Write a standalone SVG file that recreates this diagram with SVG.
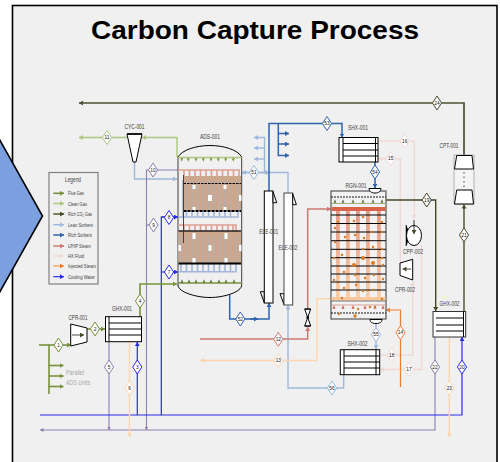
<svg xmlns="http://www.w3.org/2000/svg" width="500" height="462" viewBox="0 0 500 462">
<style>
text{font-family:"Liberation Sans",Arial,sans-serif}
.t{font-size:26.5px;font-weight:bold;fill:#000;text-anchor:middle}
.lb{font-size:7px;fill:#404040;text-anchor:middle}
.lg{font-size:5.4px;fill:#404040}
.n{font-size:4.8px;fill:#111;text-anchor:middle}
.gr{font-size:6.8px;fill:#a6a6a6}
.c{fill:none;stroke-linejoin:miter}
.flue{stroke:#76923c;stroke-width:1.6}
.clean{stroke:#adc77f;stroke-width:1.5}
.co2{stroke:#3f4a24;stroke-width:1.4}
.lean{stroke:#9db8dc;stroke-width:1.4}
.rich{stroke:#2e63ad;stroke-width:1.5}
.lp{stroke:#cd7a74;stroke-width:1.5}
.hx{stroke:#f2d8d4;stroke-width:1.4}
.inj{stroke:#fbd4b0;stroke-width:1.4}
.org{stroke:#ed7d31;stroke-width:1.2}
.cw{stroke:#2a2af0;stroke-width:1.2}
.pur{stroke:#8d7fae;stroke-width:1.1}
.tur{stroke:#666a50;stroke-width:1.7}
.top{stroke:#4a5030;stroke-width:1.7}
.eq{fill:#fff;stroke:#000;stroke-width:1}
.hxl{stroke:#000;stroke-width:1;fill:none}
.dot{fill:#d9791e}
</style>
<defs>
<polygon id="dia" points="0,-7 4.6,0 0,7 -4.6,0" fill="#fff" stroke-width="1"/>
<marker id="mflue" markerUnits="userSpaceOnUse" markerWidth="4" markerHeight="5" refX="4" refY="2.500" orient="auto"><path d="M0 0L4 2.500L0 5z" fill="#76923c"/></marker>
<marker id="mclean" markerUnits="userSpaceOnUse" markerWidth="4" markerHeight="5" refX="4" refY="2.500" orient="auto"><path d="M0 0L4 2.500L0 5z" fill="#adc77f"/></marker>
<marker id="mco2" markerUnits="userSpaceOnUse" markerWidth="4" markerHeight="5" refX="4" refY="2.500" orient="auto"><path d="M0 0L4 2.500L0 5z" fill="#3f4a24"/></marker>
<marker id="mlean" markerUnits="userSpaceOnUse" markerWidth="4" markerHeight="5" refX="4" refY="2.500" orient="auto"><path d="M0 0L4 2.500L0 5z" fill="#9db8dc"/></marker>
<marker id="mrich" markerUnits="userSpaceOnUse" markerWidth="4" markerHeight="5" refX="4" refY="2.500" orient="auto"><path d="M0 0L4 2.500L0 5z" fill="#2e63ad"/></marker>
<marker id="mlp" markerUnits="userSpaceOnUse" markerWidth="4" markerHeight="5" refX="4" refY="2.500" orient="auto"><path d="M0 0L4 2.500L0 5z" fill="#cd7a74"/></marker>
<marker id="mhx" markerUnits="userSpaceOnUse" markerWidth="4" markerHeight="5" refX="4" refY="2.500" orient="auto"><path d="M0 0L4 2.500L0 5z" fill="#f2d8d4"/></marker>
<marker id="minj" markerUnits="userSpaceOnUse" markerWidth="4" markerHeight="5" refX="4" refY="2.500" orient="auto"><path d="M0 0L4 2.500L0 5z" fill="#fbd4b0"/></marker>
<marker id="morg" markerUnits="userSpaceOnUse" markerWidth="4" markerHeight="5" refX="4" refY="2.500" orient="auto"><path d="M0 0L4 2.500L0 5z" fill="#ed7d31"/></marker>
<marker id="mcw" markerUnits="userSpaceOnUse" markerWidth="4" markerHeight="5" refX="4" refY="2.500" orient="auto"><path d="M0 0L4 2.500L0 5z" fill="#2a2af0"/></marker>
<marker id="mpur" markerUnits="userSpaceOnUse" markerWidth="3.500" markerHeight="4" refX="3.500" refY="2" orient="auto"><path d="M0 0L3.500 2L0 4z" fill="#8d7fae"/></marker>
<marker id="mtop" markerUnits="userSpaceOnUse" markerWidth="4" markerHeight="5" refX="4" refY="2.500" orient="auto"><path d="M0 0L4 2.500L0 5z" fill="#4a5030"/></marker>
<path id="sd" d="M-1.400 -1.800H1.400L0 1.800z" fill="#76923c"/>
<path id="su" d="M-1.400 1.800H1.400L0 -1.800z" fill="#5d6f35"/>
<path id="sr" d="M-1.500 1.800H1.500L0 -1.800z" fill="#cd5a4a"/>
<linearGradient id="strip" x1="0" y1="0" x2="0" y2="1"><stop offset="0" stop-color="#e39a84"/><stop offset="1" stop-color="#f8cda8"/></linearGradient>
</defs>

<rect id="frame" x="12.500" y="5.500" width="484.500" height="460" fill="#f0f0f0" stroke="#000" stroke-width="1.600"/>
<polygon id="pentagon" points="-3,135 42.500,216 -3,297" fill="#7c9fdf" stroke="#000" stroke-width="1.600"/>
<text class="t" x="255" y="38.500" textLength="328" lengthAdjust="spacingAndGlyphs">Carbon Capture Process</text>

<g id="connectors" class="c">
<path class="top" d="M464 155V103H79" marker-end="url(#mtop)"/>
<path class="clean" d="M127 137.500H79" marker-end="url(#mclean)"/>
<path class="clean" d="M177 157V137.500H142" marker-end="url(#mclean)"/>
<path class="lean" d="M134.500 162V179H177" marker-end="url(#mlean)"/>
<path class="pur" d="M178 170H146.500V430" marker-end="url(#mpur)"/>
<path class="pur" d="M146.500 225H153"/>
<path class="pur" d="M435 337V430H40" marker-end="url(#mpur)"/>
<path class="pur" d="M109 342V430" marker-end="url(#mpur)"/>
<path class="cw" d="M40 415H462V337" marker-end="url(#mcw)"/>
<path class="cw" d="M137.300 415V342" marker-end="url(#mcw)"/>
<path class="cw" d="M178 217H161.300V415"/>
<path class="cw" d="M161.300 272H178" marker-end="url(#mcw)"/>
<path class="cw" d="M161.300 217H178" marker-end="url(#mcw)"/>
<path class="inj" d="M129.500 342V437" marker-end="url(#minj)"/>
<path class="inj" d="M449.300 337V437" marker-end="url(#minj)"/>
<path class="flue" d="M39 345H71" marker-end="url(#mflue)"/>
<path class="flue" d="M49 345V394"/>
<path class="flue" d="M49 365.500H63.500" marker-end="url(#mflue)"/>
<path class="flue" d="M49 376H63.500" marker-end="url(#mflue)"/>
<path class="flue" d="M49 386.500H63.500" marker-end="url(#mflue)"/>
<path class="flue" d="M87 329H105" marker-end="url(#mflue)"/>
<path class="flue" d="M140 316.500V284H177" marker-end="url(#mflue)"/>
<path class="lean" d="M242 172.500H288V193"/>
<path class="lean" d="M264.500 172.500H242" marker-end="url(#mlean)"/>
<path class="lean" d="M264.500 172.500V137.500H254" marker-end="url(#mlean)"/>
<path class="lean" d="M264.500 148H254" marker-end="url(#mlean)"/>
<path class="lean" d="M264.500 159H254" marker-end="url(#mlean)"/>
<path class="lean" d="M270 172.500H263" marker-end="url(#mlean)"/>
<path class="rich" d="M269 191V123.500H342V137.500" marker-end="url(#mrich)"/>
<path class="rich" d="M278.300 123.500V155.500H289" marker-end="url(#mrich)"/>
<path class="rich" d="M278.300 133.500H289" marker-end="url(#mrich)"/>
<path class="rich" d="M278.300 144H289" marker-end="url(#mrich)"/>
<path class="rich" d="M229.700 295V319H269V303" marker-end="url(#mrich)"/>
<path class="rich" d="M250 319H258" marker-end="url(#mrich)"/>
<path class="rich" d="M375 162V188" marker-end="url(#mrich)"/>
<path class="lean" d="M343.700 375V388H288V305.500" marker-end="url(#mlean)"/>
<path class="lp" d="M200 339H307.700V327" marker-end="url(#mlp)"/>
<path class="lp" d="M307.700 309V209H331" marker-end="url(#mlp)"/>
<path class="inj" d="M331 298.700H317V360.500H200" marker-end="url(#minj)"/>
<path class="hx" d="M378 141H414.300V219" marker-end="url(#mhx)"/>
<path class="hx" d="M400.300 263V158.700H378" marker-end="url(#mhx)"/>
<path class="hx" d="M421.700 245V369.500H380" marker-end="url(#mhx)"/>
<path class="hx" d="M380 355H412.700V282" marker-end="url(#mhx)"/>
<path class="org" d="M400.500 387V310H386" marker-end="url(#morg)"/>
<path class="lean" d="M376 323V349" marker-end="url(#mlean)"/>
<path class="co2" d="M386 200H435.700V311" marker-end="url(#mco2)"/>
<path class="tur" d="M464 311V204.500" marker-end="url(#mtop)"/>
</g>

<g id="legend">
<rect x="49" y="172.500" width="49" height="111.500" fill="#f0f0f0" stroke="#808080" stroke-width="1.200"/>
<text class="lb" x="73" y="182" textLength="16" lengthAdjust="spacingAndGlyphs">Legend</text>
<path class="c flue" d="M53.300 193.300H64" marker-end="url(#mflue)"/>
<path class="c clean" d="M53.300 203.500H64" marker-end="url(#mclean)"/>
<path class="c co2" d="M53.300 214H64" marker-end="url(#mco2)"/>
<path class="c lean" d="M53.300 224.700H64" marker-end="url(#mlean)"/>
<path class="c rich" d="M53.300 235H64" marker-end="url(#mrich)"/>
<path class="c lp" d="M53.300 246H64" marker-end="url(#mlp)"/>
<path class="c hx" d="M53.300 256H64" marker-end="url(#mhx)"/>
<path class="c org" style="stroke:#f79646" d="M53.300 266H64" marker-end="url(#morg)"/>
<path class="c cw" d="M53.300 276.700H64" marker-end="url(#mcw)"/>
<text class="lg" x="68" y="195" textLength="16" lengthAdjust="spacingAndGlyphs">Flue Gas</text>
<text class="lg" x="68" y="205.500" textLength="19" lengthAdjust="spacingAndGlyphs">Clean Gas</text>
<text class="lg" x="68" y="216" textLength="24" lengthAdjust="spacingAndGlyphs">Rich CO₂ Gas</text>
<text class="lg" x="68" y="226.700" textLength="25" lengthAdjust="spacingAndGlyphs">Lean Sorbent</text>
<text class="lg" x="68" y="237" textLength="24" lengthAdjust="spacingAndGlyphs">Rich Sorbent</text>
<text class="lg" x="68" y="248" textLength="23" lengthAdjust="spacingAndGlyphs">LP/IP Steam</text>
<text class="lg" x="68" y="258" textLength="16" lengthAdjust="spacingAndGlyphs">HX Fluid</text>
<text class="lg" x="68" y="268" textLength="28" lengthAdjust="spacingAndGlyphs">Injected Steam</text>
<text class="lg" x="68" y="278.700" textLength="27" lengthAdjust="spacingAndGlyphs">Cooling Water</text>
</g>

<g id="CYC-001">
<text class="lb" x="134.500" y="129" textLength="20" lengthAdjust="spacingAndGlyphs">CYC-001</text>
<polygon class="eq" points="127,134 142,134 136,162 133,162"/>
<path d="M127 134H142" stroke="#000" stroke-width="1.600"/>
</g>

<g id="ADS-001">
<text class="lb" x="210" y="139" textLength="20" lengthAdjust="spacingAndGlyphs">ADS-001</text>
<path d="M178 157C182 150 196 145.500 210 145.500C224 145.500 238 150 241.700 157" fill="none" stroke="#000" stroke-width="1"/>
<path d="M178 285C178 292 196 297.500 210 297.500C224 297.500 241.700 292 241.700 285" fill="none" stroke="#000" stroke-width="1"/>
<path d="M178 157V285M241.700 157V285" stroke="#404040" stroke-width="1" fill="none"/>
<path d="M178 157.500H241.700" stroke="#adc77f" stroke-width="1.400"/>
<path d="M178 283H241.700" stroke="#76923c" stroke-width="1.300"/>
<g>
<use href="#sd" x="181.700" y="160"/><use href="#sd" x="188.300" y="160"/><use href="#sd" x="196" y="160"/><use href="#sd" x="203.300" y="160"/><use href="#sd" x="211" y="160"/><use href="#sd" x="218.300" y="160"/><use href="#sd" x="225.700" y="160"/><use href="#sd" x="233.300" y="160"/>
<use href="#su" x="182" y="281"/><use href="#su" x="189" y="281"/><use href="#su" x="196" y="281"/><use href="#su" x="204" y="281"/><use href="#su" x="211" y="281"/><use href="#su" x="219" y="281"/><use href="#su" x="226" y="281"/><use href="#su" x="234" y="281"/>
</g>
<rect x="183.500" y="176" width="57.500" height="35" fill="#c9a98c"/>
<rect x="178.500" y="231" width="62.500" height="32.500" fill="#c9a98c"/>
<g fill="none" stroke="#dc9f92" stroke-width="1.600">
<path d="M178 170H239V176M184 170V205M189.500 170V205M195 170V205M200.500 170V205M206 170V205M211.500 170V205M217 170V205M222.500 170V205M228 170V205M233.500 170V205"/>
<path d="M178 225H236V231M184 225V258M189.500 225V258M195 225V258M200.500 225V258M206 225V258M211.500 225V258M217 225V258M222.500 225V258M228 225V258M233 225V258"/>
</g>
<g fill="none" stroke="#a2b5d8" stroke-width="1.600">
<path d="M178 217H238V180M186.500 217V180M192 217V180M197.500 217V180M203 217V180M208.500 217V180M214 217V180M219.500 217V180M225 217V180M230.500 217V180M183 217V180"/>
<path d="M178 271.700H236V236M186.500 271.700V236M192 271.700V236M197.500 271.700V236M203 271.700V236M208.500 271.700V236M214 271.700V236M219.500 271.700V236M225 271.700V236M230.500 271.700V236M181 271.700V236"/>
</g>
<rect x="183.500" y="176" width="57.500" height="35" fill="#c9a98c" opacity="0.6"/>
<rect x="178.500" y="231" width="62.500" height="32.500" fill="#c9a98c" opacity="0.6"/>
<g fill="#fff">
<rect x="192.500" y="185" width="3" height="4"/><rect x="223.500" y="185" width="3" height="4"/><rect x="208" y="195" width="4" height="6"/><rect x="239" y="195" width="2.500" height="6"/><rect x="192.500" y="207" width="3" height="4"/><rect x="223.500" y="207" width="3" height="4"/>
<rect x="192.500" y="233" width="3" height="6"/><rect x="224.500" y="233" width="3" height="6"/><rect x="178.500" y="245" width="2.500" height="6"/><rect x="208.500" y="245" width="3" height="6"/><rect x="239" y="245" width="2.500" height="6"/><rect x="192.500" y="258" width="3" height="5"/><rect x="224.500" y="258" width="3" height="5"/>
</g>
<path d="M183.500 183.500H241" stroke="#000" stroke-width="1" stroke-dasharray="2.500 1"/>
<path d="M183.500 211H241" stroke="#000" stroke-width="1.800" stroke-dasharray="3 1"/>
<path d="M178.500 231H241" stroke="#222" stroke-width="1.600"/>
<path d="M178.500 263.500H241" stroke="#000" stroke-width="1.800"/>
<path d="M183.500 175V243" stroke="#333" stroke-width="0.900"/>
</g>

<g id="ELE-001">
<path class="eq" d="M260.300 291.700H264.300V302.700z"/>
<rect class="eq" x="264.300" y="191" width="8.700" height="112"/>
<path class="eq" d="M273 191.700L276.700 202.700H273z"/>
<text class="lb" x="268.700" y="234" textLength="19" lengthAdjust="spacingAndGlyphs">ELE-001</text>
</g>
<g id="ELE-002">
<path class="eq" d="M280 293.700H284V304.700z"/>
<rect x="284" y="193" width="8.700" height="112" fill="#fff" stroke="#444" stroke-width="1"/>
<path class="eq" d="M292.700 193.700L296.400 204.700H292.700z"/>
<text class="lb" x="288" y="250" textLength="19" lengthAdjust="spacingAndGlyphs">ELE-002</text>
</g>

<g id="SHX-001">
<text class="lb" x="358" y="129.500" textLength="20" lengthAdjust="spacingAndGlyphs">SHX-001</text>
<rect class="eq" x="339" y="137.500" width="39" height="24.500"/>
<path class="hxl" d="M343 137.500V162M343 143.500H378M343 150H378M343 156H378M375.500 137.500V162"/>
</g>
<g id="SHX-002">
<text class="lb" x="357.500" y="346" textLength="20" lengthAdjust="spacingAndGlyphs">SHX-002</text>
<rect class="eq" x="340.300" y="349.700" width="39.400" height="25"/>
<path class="hxl" d="M344 349.700V374.700M344 356H379.700M344 362H379.700M344 368H379.700M376 349.700V374.700"/>
</g>
<g id="GHX-001">
<text class="lb" x="122" y="310.500" textLength="20" lengthAdjust="spacingAndGlyphs">GHX-001</text>
<rect class="eq" x="105.500" y="316.700" width="36" height="25"/>
<path class="hxl" d="M109 316.700V341.700M109 323H141.500M109 329H141.500M109 335H141.500"/>
</g>
<g id="GHX-002">
<text class="lb" x="449.500" y="306" textLength="20" lengthAdjust="spacingAndGlyphs">GHX-002</text>
<rect x="433" y="311.500" width="32.700" height="25.500" fill="#fff" stroke="#333" stroke-width="1"/>
<path class="hxl" d="M436 318H463.500M436 325H463.500M436 331H463.500M463.500 311.500V337"/>
</g>

<g id="CPR-001">
<text class="lb" x="78" y="319.500" textLength="19" lengthAdjust="spacingAndGlyphs">CPR-001</text>
<polygon class="eq" points="70.700,324 87,328 87,342 70.700,346"/>
<path d="M72 335H84" stroke="#000" stroke-width="0.700" marker-end="url(#mco2)"/>
</g>
<g id="CPR-002">
<text class="lb" x="405" y="291.500" textLength="20" lengthAdjust="spacingAndGlyphs">CPR-002</text>
<polygon class="eq" points="400,263 412.700,259.300 412.700,280 400,275.500"/>
<path d="M411 269H402.500" stroke="#000" stroke-width="0.700" marker-end="url(#mco2)"/>
</g>
<g id="CPP-002">
<text class="lb" x="413" y="253.500" textLength="20" lengthAdjust="spacingAndGlyphs">CPP-002</text>
<path d="M406 225L408 230V241L406 246Z" fill="#000" stroke="#000" stroke-width="0.500"/>
<ellipse class="eq" cx="414" cy="235.500" rx="7.500" ry="10"/>
<path d="M414 220V234" stroke="#000" stroke-width="0.800" marker-end="url(#mco2)"/>
</g>
<g id="valve">
<path class="eq" d="M304.700 309H310.700L304.700 326H310.700Z"/>
<path d="M304.700 309H310.700M304.700 326H310.700" stroke="#000" stroke-width="1.200"/>
<circle cx="307.700" cy="317.500" r="1.300" fill="#000"/>
</g>
<g id="CPT-001">
<text class="lb" x="449" y="148" textLength="19" lengthAdjust="spacingAndGlyphs">CPT-001</text>
<rect x="454" y="155" width="20" height="49" fill="#f4f4f4" stroke="#a0a0a0" stroke-width="0.800"/>
<polygon class="eq" points="456.700,155.500 472,155.500 473.500,169 454.500,169"/>
<polygon class="eq" points="456.700,190 472,190 473.500,204 454.500,204"/>
<path d="M464 172V188" stroke="#444" stroke-width="1" stroke-dasharray="1.500 3"/>
</g>

<g id="RGN-001">
<text class="lb" x="356" y="188" textLength="21" lengthAdjust="spacingAndGlyphs">RGN-001</text>
<rect x="331" y="191" width="55" height="128" fill="#f2f2f2" stroke="#555" stroke-width="1.200"/>
<g fill="url(#strip)"><rect x="336" y="211" width="3.800" height="86"/><rect x="346" y="211" width="3.800" height="86"/><rect x="356" y="211" width="3.800" height="86"/><rect x="366" y="211" width="3.800" height="86"/><rect x="377" y="211" width="3.800" height="86"/></g>
<rect x="331.500" y="207" width="54" height="4" fill="#d9644a"/>
<rect x="331.500" y="297" width="54" height="3.500" fill="#f8c79a"/>
<path d="M331 197H386M331 313H386" stroke="#000" stroke-width="0.900" stroke-dasharray="2 1"/>
<path d="M331 203.500H386" stroke="#9aa86b" stroke-width="0.900"/>
<path d="M331 301H386" stroke="#555" stroke-width="0.800"/>
<path d="M331 305H386" stroke="#d48a80" stroke-width="0.800"/>
<path d="M331 215H386M331 223.500H386M331 232H386M331 240.700H386M331 249.300H386M331 257.700H386M331 266H386M331 274H386M331 282H386M331 290H386" stroke="#000" stroke-width="1"/>
<g><use href="#su" x="335" y="201"/><use href="#su" x="343" y="201"/><use href="#su" x="353" y="201"/><use href="#su" x="363" y="201"/><use href="#su" x="373" y="201"/><use href="#su" x="382" y="201"/>
<use href="#sr" x="334" y="307"/><use href="#sr" x="343" y="307"/><use href="#sr" x="353" y="307"/><use href="#sr" x="365" y="307"/><use href="#sr" x="375" y="307"/><use href="#sr" x="383" y="307"/></g>
<g class="dot">
<circle cx="338" cy="222" r="1.200"/><circle cx="354" cy="221" r="1.200"/><circle cx="363" cy="217" r="1.200"/><circle cx="382" cy="222" r="1.200"/><circle cx="335" cy="228" r="1.200"/><circle cx="372" cy="232" r="1.200"/><circle cx="345" cy="237" r="1.200"/><circle cx="355" cy="235" r="1.200"/><circle cx="364" cy="238" r="1.200"/><circle cx="382" cy="232" r="1.200"/><circle cx="335" cy="242" r="1.200"/><circle cx="363" cy="249" r="1.200"/><circle cx="373" cy="247" r="1.200"/><circle cx="382" cy="249" r="1.200"/><circle cx="342" cy="255" r="1.200"/><circle cx="334" cy="258" r="1.200"/><circle cx="363" cy="258" r="2"/><circle cx="382" cy="258" r="1.200"/><circle cx="354" cy="265" r="2"/><circle cx="373" cy="263" r="2"/><circle cx="383" cy="265" r="1.200"/><circle cx="344" cy="272" r="1.200"/><circle cx="355" cy="275" r="1.200"/><circle cx="374" cy="275" r="1.200"/><circle cx="334" cy="280" r="1.200"/><circle cx="365" cy="278" r="1.200"/><circle cx="383" cy="279" r="1.200"/><circle cx="344" cy="288" r="1.200"/><circle cx="356" cy="285" r="1.200"/><circle cx="363" cy="291" r="1.200"/><circle cx="373" cy="290" r="1.200"/><circle cx="342" cy="298" r="1.200"/><circle cx="382" cy="299" r="1.200"/><circle cx="358" cy="309" r="1.200"/><circle cx="370" cy="307" r="1.200"/><circle cx="375" cy="307" r="1.200"/><circle cx="339" cy="314" r="1.200"/><circle cx="355" cy="316" r="1.700"/>
</g>
<path class="eq" d="M369 188.500H381C381 191 379 193 375 193C371 193 369 191 369 188.500Z"/>
<path class="eq" d="M370 319.500H382C382 322 380 323.500 376 323.500C372 323.500 370 322 370 319.500Z"/>
</g>

<g id="parallel"><text class="gr" x="66" y="375" textLength="18" lengthAdjust="spacingAndGlyphs">Parallel</text><text class="gr" x="66" y="385" textLength="24" lengthAdjust="spacingAndGlyphs">ADS Units</text></g>

<g id="s1"><use href="#dia" x="58.500" y="345" stroke="#76923c"/><text class="n" x="58.500" y="346.700">1</text></g>
<g id="s2"><use href="#dia" x="95" y="329" stroke="#76923c"/><text class="n" x="95" y="330.700">2</text></g>
<g id="s3"><use href="#dia" x="137.300" y="367" stroke="#2a2af0"/><text class="n" x="137.300" y="368.700">3</text></g>
<g id="s4"><use href="#dia" x="140" y="301" stroke="#76923c"/><text class="n" x="140" y="302.700">4</text></g>
<g id="s5"><use href="#dia" x="109" y="367" stroke="#8d7fae"/><text class="n" x="109" y="368.700">5</text></g>
<g id="s6"><use href="#dia" x="129.500" y="388" stroke="#fbd4b0"/><text class="n" x="129.500" y="389.700">6</text></g>
<g id="s7"><use href="#dia" x="169" y="272" stroke="#2a2af0"/><text class="n" x="169" y="273.700">7</text></g>
<g id="s8"><use href="#dia" x="169" y="217.500" stroke="#2a2af0"/><text class="n" x="169" y="219.200">8</text></g>
<g id="s9"><use href="#dia" x="153.500" y="225" stroke="#8d7fae"/><text class="n" x="153.500" y="226.700">9</text></g>
<g id="s10"><use href="#dia" x="153" y="170" stroke="#8d7fae"/><text class="n" x="153" y="171.700">10</text></g>
<g id="s11"><use href="#dia" x="107" y="137.500" stroke="#adc77f"/><text class="n" x="107" y="139.200">11</text></g>
<g id="s12"><use href="#dia" x="278.300" y="339.300" stroke="#cd7a74"/><text class="n" x="278.300" y="341">12</text></g>
<g id="s13"><use href="#dia" x="278.300" y="360.500" stroke="#fbd4b0"/><text class="n" x="278.300" y="362.200">13</text></g>
<g id="s14"><use href="#dia" x="400.500" y="332.700" stroke="#ed7d31"/><text class="n" x="400.500" y="334.400">14</text></g>
<g id="s15"><use href="#dia" x="390.700" y="158.700" stroke="#f2d8d4"/><text class="n" x="390.700" y="160.400">15</text></g>
<g id="s16"><use href="#dia" x="404.700" y="141" stroke="#f2d8d4"/><text class="n" x="404.700" y="142.700">16</text></g>
<g id="s17"><use href="#dia" x="409" y="369.500" stroke="#f2d8d4"/><text class="n" x="409" y="371.200">17</text></g>
<g id="s18"><use href="#dia" x="391.700" y="355" stroke="#f2d8d4"/><text class="n" x="391.700" y="356.700">18</text></g>
<g id="s19"><use href="#dia" x="426.700" y="200" stroke="#3f4a24"/><text class="n" x="426.700" y="201.700">19</text></g>
<g id="s20"><use href="#dia" x="462" y="367" stroke="#2a2af0"/><text class="n" x="462" y="368.700">20</text></g>
<g id="s21"><use href="#dia" x="464" y="235" stroke="#4a5030"/><text class="n" x="464" y="236.700">21</text></g>
<g id="s22"><use href="#dia" x="435" y="367" stroke="#8d7fae"/><text class="n" x="435" y="368.700">22</text></g>
<g id="s23"><use href="#dia" x="449.300" y="388" stroke="#fbd4b0"/><text class="n" x="449.300" y="389.700">23</text></g>
<g id="s24"><use href="#dia" x="437" y="103" stroke="#4a5030"/><text class="n" x="437" y="104.700">24</text></g>
<g id="s51"><use href="#dia" x="254" y="172.500" stroke="#9db8dc"/><text class="n" x="254" y="174.200">51</text></g>
<g id="s52"><use href="#dia" x="240.300" y="319" stroke="#2e63ad"/><text class="n" x="240.300" y="320.700">52</text></g>
<g id="s53"><use href="#dia" x="327" y="123.500" stroke="#2e63ad"/><text class="n" x="327" y="125.200">53</text></g>
<g id="s54"><use href="#dia" x="375" y="172" stroke="#2e63ad"/><text class="n" x="375" y="173.700">54</text></g>
<g id="s55"><use href="#dia" x="376" y="334.700" stroke="#9db8dc"/><text class="n" x="376" y="336.400">55</text></g>
<g id="s56"><use href="#dia" x="332" y="388" stroke="#9db8dc"/><text class="n" x="332" y="389.700">56</text></g>
</svg>
